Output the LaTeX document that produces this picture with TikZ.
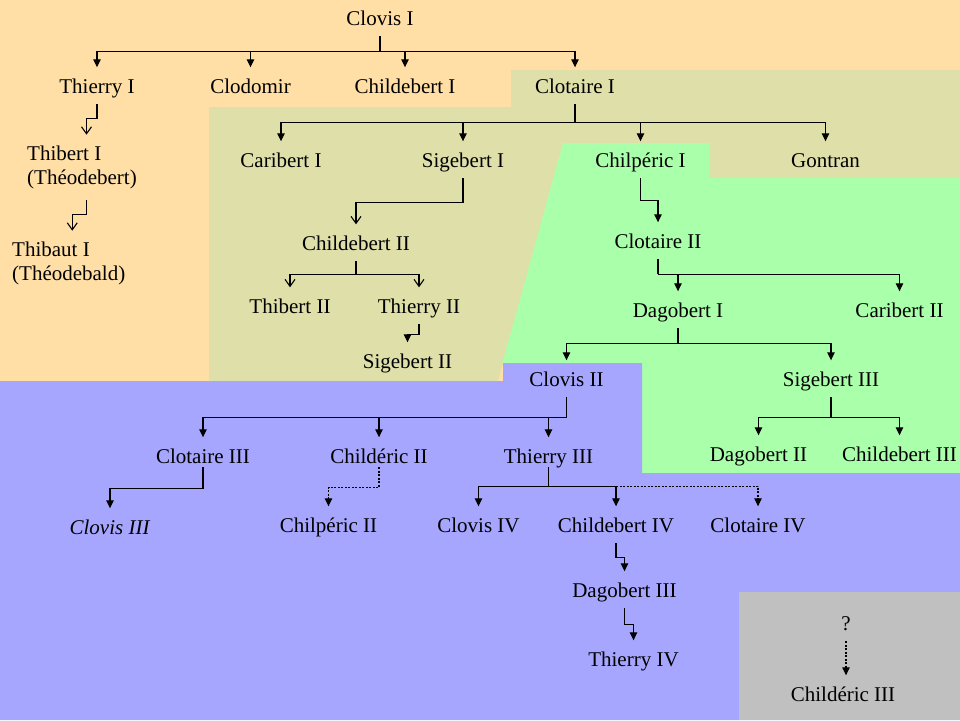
\documentclass[tikz,border=0pt]{standalone}
\usepackage{fontspec}
\setmainfont{Liberation Serif}
\usetikzlibrary{arrows.meta}
\definecolor{bgorange}{RGB}{255,223,166}
\definecolor{khaki}{RGB}{223,223,170}
\definecolor{lgreen}{RGB}{170,255,170}
\definecolor{lblue}{RGB}{166,166,255}
\definecolor{lgray}{RGB}{192,192,192}
\begin{document}
\begin{tikzpicture}[x=1pt,y=-1pt,
  royal/.style={anchor=base, text height=14.5pt, text depth=0pt, inner xsep=2pt, inner ysep=11pt, font=\fontsize{21}{25}\selectfont},
  twoline/.style={anchor=north west, align=left, inner xsep=0pt, inner ysep=11pt, font=\fontsize{21}{24}\selectfont},
  link/.style={line width=1.1pt, black},
  farr/.style={link, -{Triangle[length=8pt,width=7.5pt]}},
  oarr/.style={link, -{Straight Barb[length=7pt,width=10pt]}},
  dlink/.style={dash pattern=on 2pt off 1.5pt},
]
\useasboundingbox (0,0) rectangle (960,720);
% background regions
\fill[bgorange] (0,0) rectangle (960,720);
\fill[khaki] (209,107) -- (511,107) -- (511,70) -- (960,70) -- (960,178) -- (709,178) -- (709,143) -- (563,143) -- (498,381) -- (209,381) -- cycle;
\fill[lgreen] (563,143) -- (709,143) -- (709,178) -- (960,178) -- (960,473) -- (642,473) -- (642,363) -- (502.5,363) -- cycle;
\fill[lblue] (0,381) -- (503,381) -- (503,363) -- (642,363) -- (642,473) -- (960,473) -- (960,720) -- (0,720) -- cycle;
\fill[lgray] (739,592) rectangle (960,720);

% names
\node[royal] (clovis1) at (380,25) {Clovis I};
\node[royal] (thierry1) at (97,93) {Thierry I};
\node[royal] (clodomir) at (250.5,93) {Clodomir};
\node[royal] (childebert1) at (405,93) {Childebert I};
\node[royal] (clotaire1) at (575,93) {Clotaire I};
\node[twoline] (thibert1) at (27,134.7) {Thibert I\\(Théodebert)};
\node[twoline] (thibaut1) at (12,230.7) {Thibaut I\\(Théodebald)};
\node[royal] (caribert1) at (281,167) {Caribert I};
\node[royal] (sigebert1) at (463,167) {Sigebert I};
\node[royal] (chilperic1) at (640.5,167) {Chilpéric I};
\node[royal] (gontran) at (825.5,167) {Gontran};
\node[royal] (childebert2) at (356,250) {Childebert II};
\node[royal] (thibert2) at (290,313) {Thibert II};
\node[royal] (thierry2) at (419,313) {Thierry II};
\node[royal] (sigebert2) at (407.5,368) {Sigebert II};
\node[royal] (clotaire2) at (658,248) {Clotaire II};
\node[royal] (dagobert1) at (678,317) {Dagobert I};
\node[royal] (caribert2) at (899.5,317) {Caribert II};
\node[royal] (clovis2) at (566.5,386) {Clovis II};
\node[royal] (sigebert3) at (831,386) {Sigebert III};
\node[royal] (dagobert2) at (758.5,461) {Dagobert II};
\node[royal] (childebert3) at (899.5,461) {Childebert III};
\node[royal] (clotaire3) at (203,463) {Clotaire III};
\node[royal] (childeric2) at (379,463) {Childéric II};
\node[royal] (thierry3) at (548.5,463) {Thierry III};
\node[royal] (clovis3) at (110,534) {\textit{Clovis III}};
\node[royal] (chilperic2) at (328.5,532) {Chilpéric II};
\node[royal] (clovis4) at (478.5,532) {Clovis IV};
\node[royal] (childebert4) at (616,532) {Childebert IV};
\node[royal] (clotaire4) at (758,532) {Clotaire IV};
\node[royal] (dagobert3) at (624.5,597) {Dagobert III};
\node[royal] (thierry4) at (633.5,666) {Thierry IV};
\node[royal] (q) at (846,630) {?};
\node[royal] (childeric3) at (843,701) {Childéric III};

% connectors
\draw[link, line width=1.6pt] (clovis1.south) -- ++(0,15) coordinate (k1);
\foreach \c in {thierry1,clodomir,childebert1,clotaire1} \draw[farr] (k1) -| (\c.north);
\draw[oarr] (thierry1.south) -- ++(0,14) -| ([xshift=4.5pt]thibert1.north);
\draw[oarr] ([xshift=4.5pt]thibert1.south) -- ++(0,14) -| ([xshift=3.5pt]thibaut1.north);

\draw[link] (clotaire1.south) -- ++(0,18) coordinate (k2);
\foreach \c in {caribert1,sigebert1,chilperic1,gontran} \draw[farr] (k2) -| (\c.north);
\draw[oarr] (sigebert1.south) -- ++(0,24) -| (childebert2.north);
\draw[link] (childebert2.south) -- ++(0,13) coordinate (k3);
\foreach \c in {thibert2,thierry2} \draw[oarr] (k3) -| (\c.north);
\draw[farr] (thierry2.south) -- ++(0,10) -| (sigebert2.north);

\draw[farr] (chilperic1.south) -- ++(0,22) -| (clotaire2.north);
\draw[link] (clotaire2.south) -- ++(0,15) coordinate (k4);
\foreach \c in {dagobert1,caribert2} \draw[farr] (k4) -| (\c.north);
\draw[link] (dagobert1.south) -- ++(0,15) coordinate (k5);
\foreach \c in {clovis2,sigebert3} \draw[farr] (k5) -| (\c.north);
\draw[link] (clovis2.south) -- ++(0,20) coordinate (k6);
\foreach \c in {clotaire3,childeric2,thierry3} \draw[farr] (k6) -| (\c.north);
\draw[link] (sigebert3.south) -- ++(0,20) coordinate (k7);
\foreach \c in {dagobert2,childebert3} \draw[farr] (k7) -| (\c.north);

\draw[farr] ([yshift=7pt]clotaire3.south) -- ++(0,21) -| (clovis3.north);
\draw[farr,dlink] ([yshift=7pt]childeric2.south) -- ++(0,20) -| (chilperic2.north);
\draw[link] ([yshift=7pt]thierry3.south) -- ++(0,19) coordinate (k8);
\draw[farr] (k8) -| (clovis4.north);
\draw[farr] (k8) -| (childebert4.north);
\draw[farr,dlink] (k8 -| childebert4.north) -| (clotaire4.north);
\draw[farr] (childebert4.south) -- ++(0,14) -| (dagobert3.north);
\draw[farr] (dagobert3.south) -- ++(0,16) -| (thierry4.north);
\draw[farr,dlink] (q.south) -- (q.south |- childeric3.north);
\end{tikzpicture}
\end{document}
